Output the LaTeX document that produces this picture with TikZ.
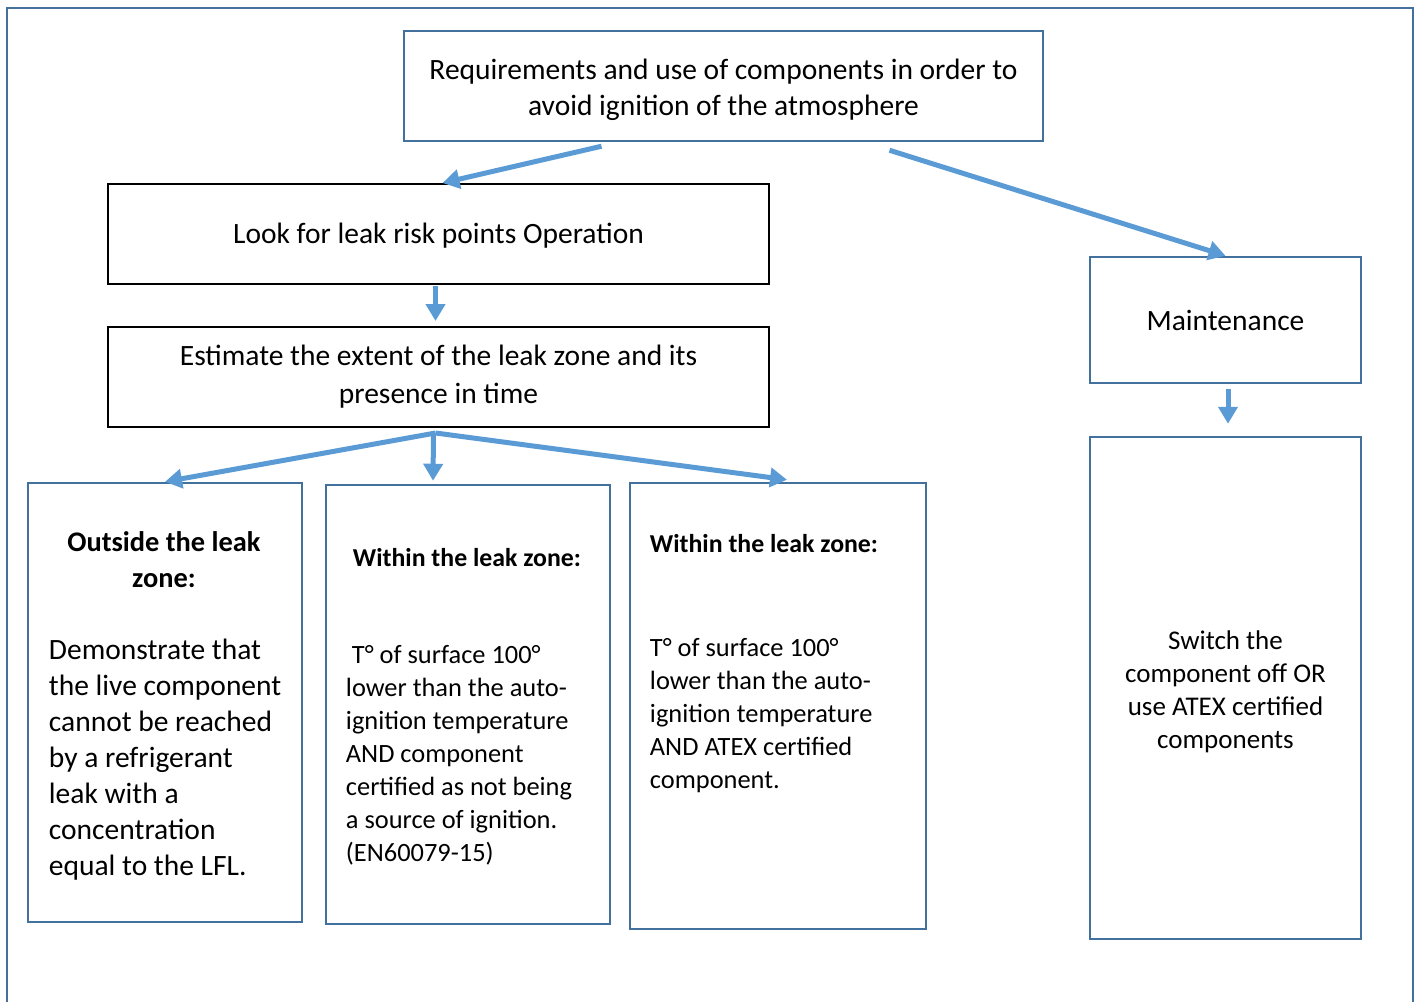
\documentclass[tikz,border=0pt]{standalone}
\usepackage{fontspec}
\setmainfont{Carlito}
\usetikzlibrary{arrows.meta}

\definecolor{boxblue}{HTML}{41719C}
\definecolor{flowblue}{HTML}{5B9BD5}

\tikzset{
  bluebox/.style={draw=boxblue,line width=2.5pt,rectangle,inner sep=0pt},
  blackbox/.style={draw=black,line width=2pt,rectangle,inner sep=0pt},
  flow/.style={flowblue,line width=5pt,-{Triangle[length=17pt,width=19pt]}},
  bigtext/.style={font=\fontsize{29.5}{36}\selectfont},
  smalltext/.style={font=\fontsize{27}{33}\selectfont},
  zonetext/.style={font=\fontsize{26.4}{33}\selectfont,align=left,inner sep=0pt},
}

\begin{document}
\begin{tikzpicture}[x=1pt,y=-1pt]

\useasboundingbox (0,0) rectangle (1420,1001);

% outer frame, open at the bottom
\draw[boxblue,line width=2pt] (7,1010)--(7,8)--(1413,8)--(1413,1010);

\node[bluebox,bigtext,align=center,minimum width=639pt,minimum height=110pt] (req) at (723.5,86) {\rule{0pt}{28pt}Requirements and use of components in order to\\avoid ignition of the atmosphere};

\node[blackbox,bigtext,minimum width=661pt,minimum height=100pt] (look) at (438.5,234) {\rule{0pt}{24pt}Look for leak risk points Operation};

\node[blackbox,bigtext,align=center,minimum width=661pt,minimum height=100pt] (est) at (438.5,377) {Estimate the extent of the leak zone and its\\[2pt]presence in time};

\node[bluebox,bigtext,minimum width=271pt,minimum height=126pt] (maint) at (1225.5,320) {Maintenance};

\node[bluebox,smalltext,align=center,minimum width=271pt,minimum height=502pt] (switch) at (1225.5,688) {\rule{0pt}{26pt}Switch the\\component off OR\\use ATEX certified\\components};

% the three zone boxes, text set on top of them
\node[bluebox,minimum width=274pt,minimum height=439pt] (out) at (165,702.5) {};
\node[bluebox,minimum width=284pt,minimum height=439pt] (within1) at (468,704.5) {};
\node[bluebox,minimum width=296pt,minimum height=446pt] (within2) at (778,706) {};

\node[zonetext,font=\fontsize{29.5}{36}\selectfont,anchor=west] (outtxt) at ([xshift=22pt,yshift=-3pt]out.west) {\makebox[230pt]{\fontsize{28.4}{36}\selectfont\bfseries Outside the leak}\\\makebox[230pt]{\fontsize{28.4}{36}\selectfont\bfseries zone:}\\[36pt]Demonstrate that\\the live component\\cannot be reached\\by a refrigerant\\leak with a\\concentration\\equal to the LFL.};

\node[zonetext,anchor=west] (within1txt) at ([xshift=21pt,yshift=-2pt]within1.west) {\makebox[242pt]{\fontsize{25.8}{33}\selectfont\bfseries Within the leak zone:}\\[64pt]\hspace*{6pt}T° of surface 100°\\lower than the auto-\\ignition temperature\\AND component\\certified as not being\\a source of ignition.\\(EN60079-15)};

\node[zonetext,anchor=north west] (within2txt) at ([xshift=21pt,yshift=-52pt]within2.north west) {\fontsize{25.8}{33}\selectfont\bfseries Within the leak zone:\\[71pt]T° of surface 100°\\lower than the auto-\\ignition temperature\\AND ATEX certified\\component.};

\draw[flow] ([xshift=-122pt,yshift=-4pt]req.south)--([xshift=4pt]look.north);
\draw[flow] ([xshift=166pt,yshift=-8pt]req.south)--(maint.north);
\draw[flow] ([xshift=-3pt,yshift=-1pt]look.south)--([xshift=-3pt,yshift=5pt]est.north);
\draw[flow] ([xshift=-3pt,yshift=-5pt]est.south)--(out.north);
\draw[flow] ([xshift=-5pt,yshift=-5pt]est.south)--([xshift=-35pt,yshift=3pt]within1.north);
\draw[flow] ([xshift=-3pt,yshift=-5pt]est.south)--([xshift=9pt,yshift=2pt]within2.north);
\draw[flow] ([xshift=2.5pt,yshift=-5pt]maint.south)--([xshift=2.5pt,yshift=12pt]switch.north);

\end{tikzpicture}
\end{document}
